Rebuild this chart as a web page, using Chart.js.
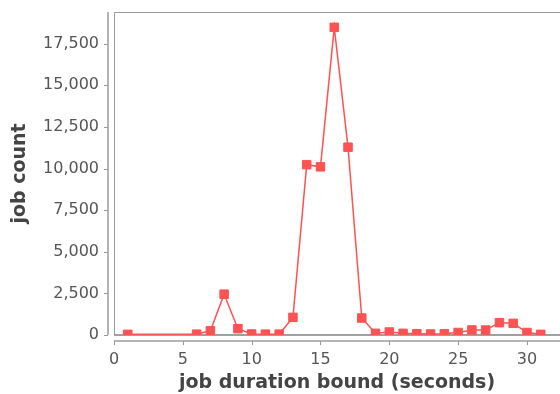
<!DOCTYPE html>
<html>
<head>
<meta charset="utf-8">
<script src="https://cdn.jsdelivr.net/npm/chart.js@4"></script>
<style>
  html, body { margin: 0; padding: 0; background: #fff; overflow: hidden; }
  #wrap { width: 560px; height: 394px; }
</style>
</head>
<body>
<div id="wrap"><canvas id="chart"></canvas></div>
<script>
// job duration histogram
var durations = [1, 6, 7, 8, 9, 10, 11, 12, 13, 14, 15, 16, 17, 18, 19, 20, 21, 22, 23, 24, 25, 26, 27, 28, 29, 30, 31];
var counts = [40, 50, 250, 2450, 380, 60, 50, 50, 1060, 10230, 10100, 18480, 11280, 1020, 100, 180, 100, 80, 60, 80, 150, 300, 300, 740, 700, 150, 40];
var yTicks = [0, 2500, 5000, 7500, 10000, 12500, 15000, 17500];
var xTicks = [0, 5, 10, 15, 20, 25, 30];

var points = durations.map(function (d, i) { return { x: d, y: counts[i] }; });

// no extra label padding round the plot
function noPad(s) {
  s.paddingTop = 0; s.paddingBottom = 0; s.paddingLeft = 0; s.paddingRight = 0;
}

// plot frame + offset axes (drawn through the scales)
var framePlugin = {
  id: 'frame',
  beforeDatasetsDraw: function (chart) {
    var ctx = chart.ctx, a = chart.chartArea;
    var xs = chart.scales.x, ys = chart.scales.y;
    ctx.save();
    // frame
    ctx.strokeStyle = '#9a9a9a';
    ctx.lineWidth = 1;
    ctx.beginPath();
    ctx.moveTo(a.left + 0.5, a.bottom);
    ctx.lineTo(a.left + 0.5, a.top + 0.5);
    ctx.lineTo(a.right, a.top + 0.5);
    ctx.stroke();
    ctx.strokeStyle = '#808080';
    ctx.lineWidth = 1.5;
    ctx.beginPath();
    ctx.moveTo(a.left, a.bottom);
    ctx.lineTo(a.right, a.bottom);
    ctx.stroke();
    // y axis
    ctx.strokeStyle = '#b4b4b4';
    ctx.lineWidth = 2;
    ctx.beginPath();
    ctx.moveTo(a.left - 6, a.top);
    ctx.lineTo(a.left - 6, a.bottom);
    ctx.stroke();
    ctx.lineWidth = 1;
    ctx.strokeStyle = '#999';
    yTicks.forEach(function (v) {
      var p = Math.round(ys.getPixelForValue(v)) + 0.5;
      ctx.beginPath();
      ctx.moveTo(a.left - 10, p);
      ctx.lineTo(a.left - 6, p);
      ctx.stroke();
    });
    // x axis
    ctx.strokeStyle = '#b4b4b4';
    ctx.lineWidth = 2;
    ctx.beginPath();
    ctx.moveTo(a.left, a.bottom + 6);
    ctx.lineTo(a.right, a.bottom + 6);
    ctx.stroke();
    ctx.lineWidth = 1;
    ctx.strokeStyle = '#999';
    xTicks.forEach(function (v) {
      var p = Math.round(xs.getPixelForValue(v)) + 0.5;
      ctx.beginPath();
      ctx.moveTo(p, a.bottom + 6);
      ctx.lineTo(p, a.bottom + 10);
      ctx.stroke();
    });
    ctx.restore();
  }
};

var ctx = document.getElementById('chart').getContext('2d');
var chart = new Chart(ctx, {
  type: 'line',
  data: {
    datasets: [{
      data: points,
      borderColor: '#ff5252',
      backgroundColor: '#ff5252',
      borderWidth: 1.5,
      pointStyle: 'rect',
      pointRadius: 6,
      pointBorderWidth: 1,
      pointBorderColor: '#ff5252',
      pointBackgroundColor: '#ff5252',
      tension: 0
    }]
  },
  options: {
    responsive: true,
    maintainAspectRatio: false,
    animation: false,
    layout: { autoPadding: false, padding: { top: 12, right: 0, left: 0, bottom: 0 } },
    plugins: {
      legend: { display: false },
      tooltip: { enabled: false }
    },
    scales: {
      x: {
        type: 'linear',
        min: 0,
        max: 32.4,
        afterBuildTicks: function (s) { s.ticks = xTicks.map(function (v) { return { value: v }; }); },
        afterFit: function (s) { s.height = 59; noPad(s); },
        grid: { display: false, drawTicks: false },
        border: { display: false },
        ticks: {
          padding: 15,
          color: '#555',
          font: { family: 'DejaVu Sans', size: 16 }
        },
        title: {
          display: true,
          text: 'job duration bound (seconds)',
          color: '#444',
          padding: { top: 0, bottom: 0 },
          font: { family: 'DejaVu Sans', size: 19, weight: 'bold' }
        }
      },
      y: {
        min: 0,
        max: 19400,
        afterBuildTicks: function (s) { s.ticks = yTicks.map(function (v) { return { value: v }; }); },
        afterFit: function (s) { s.width = 114; noPad(s); },
        grid: { display: false, drawTicks: false },
        border: { display: false },
        ticks: {
          padding: 15,
          color: '#555',
          font: { family: 'DejaVu Sans', size: 16 },
          callback: function (v) { return v.toLocaleString('en-US'); }
        },
        title: {
          display: true,
          text: 'job count',
          color: '#444',
          padding: { top: 9, bottom: 0 },
          font: { family: 'DejaVu Sans', size: 19, weight: 'bold' }
        }
      }
    }
  },
  plugins: [framePlugin]
});
</script>
</body>
</html>
